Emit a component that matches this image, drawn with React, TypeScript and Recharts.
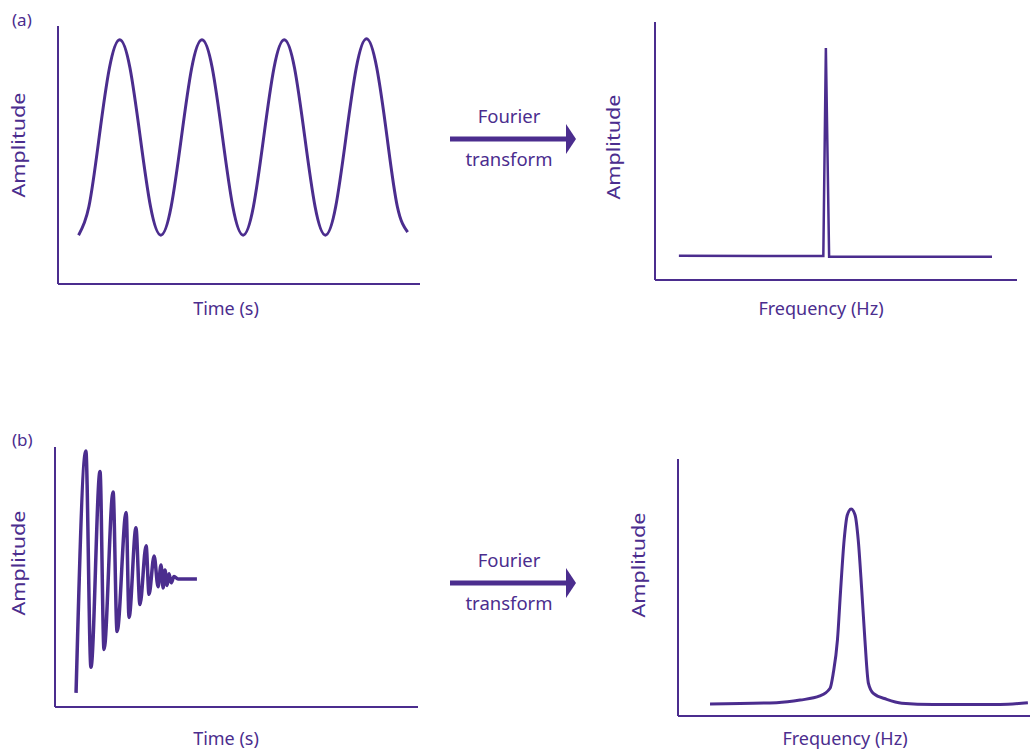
import { LineChart, Line, XAxis, YAxis } from "recharts"

const PURPLE = "#4b2d8e"
const FONT = "'Noto Sans', sans-serif"

// (a) steady oscillation: time in periods, amplitude
const sineTime = [
  0.25, 0.375, 0.5, 0.625, 0.75, 0.875, 1, 1.125, 1.25, 1.375, 1.5, 1.625, 1.75, 1.875, 2, 2.125,
  2.25, 2.375, 2.5, 2.625, 2.75, 2.875, 3, 3.125, 3.25, 3.375, 3.5, 3.625, 3.75, 3.875, 4, 4.125, 4.25,
]
const sineAmp = [
  -1, -0.71, 0, 0.71, 1, 0.71, 0, -0.71, -1, -0.71, 0, 0.71, 1, 0.71, 0, -0.71,
  -1, -0.71, 0, 0.71, 1, 0.71, 0, -0.71, -1, -0.71, 0, 0.71, 1.01, 0.71, 0, -0.71, -0.97,
]

// (a) spectrum: a single sharp line
const spikeFreq = [6.6, 46.5, 47.2, 48.1, 93.1]
const spikeAmp = [0.094, 0.093, 0.899, 0.09, 0.09]

// (b) decaying oscillation (FID)
const fidTime = [
  5.8, 8.5, 9.9, 12.4, 13.5, 16.0, 17.1, 19.6, 20.4, 22.3, 23.4, 25.1, 25.9, 27.3, 28.4,
  29.2, 29.8, 30.3, 30.9, 31.4, 32.0, 32.8, 33.9, 39.1,
]
const fidAmp = [
  -0.89, 1.0, -0.69, 0.84, -0.55, 0.68, -0.41, 0.52, -0.3, 0.4, -0.2, 0.26, -0.12, 0.18, -0.06,
  0.11, -0.07, 0.07, -0.05, 0.04, -0.03, 0.02, 0, 0,
]

// (b) spectrum: broadened peak
const peakFreq = [
  9.1, 28.0, 34.7, 40.3, 43.2, 44.1, 45.3, 46.2, 47.2, 48.1, 49.2, 50.3, 51.2, 52.2, 53.1,
  54.1, 55.5, 59.3, 63.6, 72.5, 91.5, 99.4,
]
const peakAmp = [
  0.047, 0.052, 0.062, 0.078, 0.108, 0.166, 0.296, 0.49, 0.685, 0.782, 0.805, 0.782, 0.685, 0.49, 0.296,
  0.127, 0.088, 0.065, 0.05, 0.045, 0.045, 0.052,
]

const pairs = (xs: number[], ys: number[]) => xs.map((x, i) => ({ x, y: ys[i] }))

type Title = { text: string; x: number; y: number }

type PanelProps = {
  left: number
  top: number
  width: number
  height: number
  margin: { top: number; right: number; bottom: number; left: number }
  data: { x: number; y: number }[]
  xDomain: [number, number]
  yDomain: [number, number]
  curve: "monotone" | "linear" | "natural"
  lineWidth: number
  xTitle: Title
  yTitle: Title
}

function Panel(p: PanelProps) {
  const textStyle = { fill: PURPLE, fontFamily: FONT, fontSize: 18 }
  // axes get 1px of room; margins are set so the axis lines land where the reference has them
  const m = { ...p.margin, left: p.margin.left - 1, bottom: p.margin.bottom - 1 }
  return (
    <div style={{ position: "absolute", left: p.left, top: p.top }}>
      <svg
        width={p.width}
        height={p.height}
        style={{ position: "absolute", left: 0, top: 0, overflow: "visible" }}
      >
        <text x={p.xTitle.x} y={p.xTitle.y} textAnchor="middle" style={textStyle}>
          {p.xTitle.text}
        </text>
        {/* the vertical titles are drawn stretched along their length in the original */}
        <text
          x={p.yTitle.x}
          y={p.yTitle.y}
          textAnchor="middle"
          textLength={105}
          lengthAdjust="spacingAndGlyphs"
          transform={`rotate(-90 ${p.yTitle.x} ${p.yTitle.y})`}
          style={textStyle}
        >
          {p.yTitle.text}
        </text>
      </svg>
      <LineChart width={p.width} height={p.height} data={p.data} margin={m}>
        <XAxis
          type="number"
          dataKey="x"
          domain={p.xDomain}
          allowDataOverflow
          height={1}
          tick={false}
          tickLine={false}
          axisLine={{ stroke: PURPLE, strokeWidth: 2 }}
        />
        <YAxis
          type="number"
          domain={p.yDomain}
          allowDataOverflow
          width={1}
          tick={false}
          tickLine={false}
          axisLine={{ stroke: PURPLE, strokeWidth: 2 }}
        />
        <Line
          dataKey="y"
          type={p.curve}
          stroke={PURPLE}
          strokeWidth={p.lineWidth}
          dot={false}
          activeDot={false}
          isAnimationActive={false}
        />
      </LineChart>
    </div>
  )
}

function Arrow({ top }: { top: number }) {
  // top = y of the arrow shaft
  return (
    <svg width={160} height={80} style={{ position: "absolute", left: 430, top: top - 40 }}>
      <text x={79} y={24} textAnchor="middle" fill={PURPLE} fontFamily={FONT} fontSize={18.5}>
        Fourier
      </text>
      <line x1={20} y1={40} x2={138} y2={40} stroke={PURPLE} strokeWidth={5} />
      <polygon points="136,25 146,40 136,55" fill={PURPLE} />
      <text x={79} y={67} textAnchor="middle" fill={PURPLE} fontFamily={FONT} fontSize={18.5}>
        transform
      </text>
    </svg>
  )
}

const tagStyle = {
  position: "absolute" as const,
  left: 12,
  color: PURPLE,
  fontFamily: FONT,
  fontSize: 17,
  lineHeight: "20px",
}

export default function App() {
  return (
    <div
      style={{
        position: "absolute",
        left: 0,
        top: 0,
        width: 1031,
        height: 750,
        background: "#fff",
        overflow: "hidden",
      }}
    >
      <Panel
        left={0}
        top={0}
        width={440}
        height={330}
        margin={{ top: 26, right: 20, bottom: 46, left: 58 }}
        data={pairs(sineTime, sineAmp)}
        xDomain={[0, 4.4]}
        yDomain={[-1.5, 1.14]}
        curve="natural"
        lineWidth={3}
        xTitle={{ text: "Time (s)", x: 226, y: 315 }}
        yTitle={{ text: "Amplitude", x: 25, y: 145 }}
      />
      <Panel
        left={600}
        top={0}
        width={431}
        height={330}
        margin={{ top: 22, right: 14, bottom: 50, left: 55 }}
        data={pairs(spikeFreq, spikeAmp)}
        xDomain={[0, 100]}
        yDomain={[0, 1]}
        curve="linear"
        lineWidth={2.5}
        xTitle={{ text: "Frequency (Hz)", x: 221, y: 315 }}
        yTitle={{ text: "Amplitude", x: 20, y: 147 }}
      />
      <Panel
        left={0}
        top={420}
        width={440}
        height={330}
        margin={{ top: 27, right: 22, bottom: 43, left: 55 }}
        data={pairs(fidTime, fidAmp)}
        xDomain={[0, 100]}
        yDomain={[-1, 1.031]}
        curve="monotone"
        lineWidth={3.5}
        xTitle={{ text: "Time (s)", x: 226, y: 325 }}
        yTitle={{ text: "Amplitude", x: 25, y: 143 }}
      />
      <Panel
        left={600}
        top={440}
        width={431}
        height={310}
        margin={{ top: 19, right: 1, bottom: 34, left: 78 }}
        data={pairs(peakFreq, peakAmp)}
        xDomain={[0, 100]}
        yDomain={[0, 1]}
        curve="monotone"
        lineWidth={3}
        xTitle={{ text: "Frequency (Hz)", x: 245, y: 305 }}
        yTitle={{ text: "Amplitude", x: 45, y: 125 }}
      />
      <Arrow top={139} />
      <Arrow top={583} />
      <div style={{ ...tagStyle, top: 10 }}>(a)</div>
      <div style={{ ...tagStyle, top: 430 }}>(b)</div>
    </div>
  )
}
